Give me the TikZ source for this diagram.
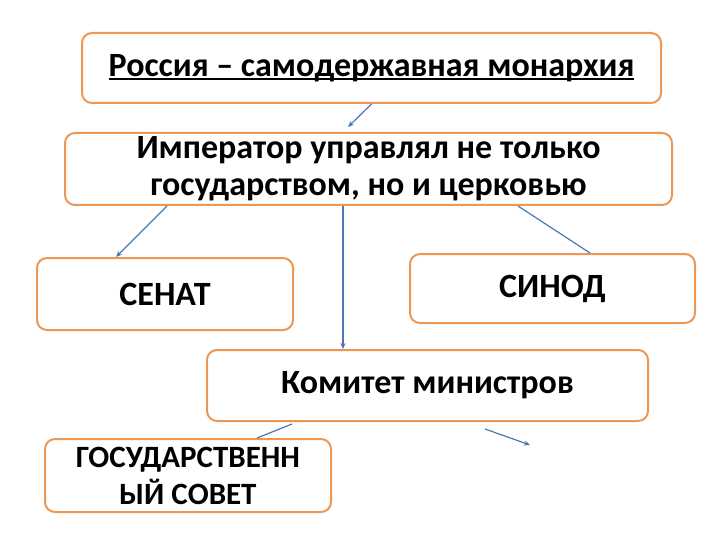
\documentclass[tikz,border=0pt]{standalone}
\usepackage{fontspec}
\setmainfont{Carlito}
\newcommand\myul[1]{\setbox0\hbox{#1}\rlap{\rule[-3.5pt]{\wd0}{1.8pt}}\box0}
\usetikzlibrary{arrows.meta,calc}
\definecolor{boxline}{RGB}{236,152,84}
\definecolor{conn}{RGB}{74,120,178}
\tikzset{
  box/.style={draw=boxline, line width=2pt, rounded corners=10pt, fill=white,
    align=center, inner sep=0pt, font=\bfseries\fontsize{34}{37}\selectfont},
  smallbox/.style={box, font=\bfseries\fontsize{31}{37}\selectfont},
  link/.style={draw=conn, line width=1.2pt},
  arr/.style={link, -{Stealth[length=6pt,width=5pt]}},
}
\begin{document}
\begin{tikzpicture}[x=1pt,y=-1pt]
\useasboundingbox (0,0) rectangle (720,540);
\node[box, minimum width=579pt, minimum height=70pt] (rus) at (371.5,68) {\myul{Россия – самодержавная монархия}};
\node[box, minimum width=607pt, minimum height=72pt] (imp) at (368.5,169) {Император управлял не только\\государством, но и церковью};
\node[box, minimum width=256pt, minimum height=72pt] (sen) at (165,294) {СЕНАТ};
\node[box, minimum width=285pt, minimum height=69pt] (syn) at (552.5,288.5) {СИНОД};
\node[box, minimum width=441pt, minimum height=71pt] (kom) at (427.5,385.5) {Комитет министров};
\node[smallbox, minimum width=286pt, minimum height=73pt] (gos) at (188,475.5) {ГОСУДАРСТВЕНН\\ЫЙ СОВЕТ};
\coordinate (e1) at (348,127);
\coordinate (e6) at (530,445);
\draw[arr] (rus.south) -- (e1);
\draw[arr] ([xshift=-201.5pt]imp.south) -- ([xshift=-49pt]sen.north);
\draw[arr] ([xshift=-25.5pt]imp.south) -- ([xshift=-84.5pt]kom.north);
\draw[link] ([xshift=149.5pt]imp.south) -- ([xshift=37.5pt]syn.north);
\draw[link] ([xshift=-135.5pt,yshift=-2pt]kom.south) -- ([xshift=69pt]gos.north);
\draw[arr] ([xshift=57.5pt,yshift=-7pt]kom.south) -- (e6);
\end{tikzpicture}
\end{document}
